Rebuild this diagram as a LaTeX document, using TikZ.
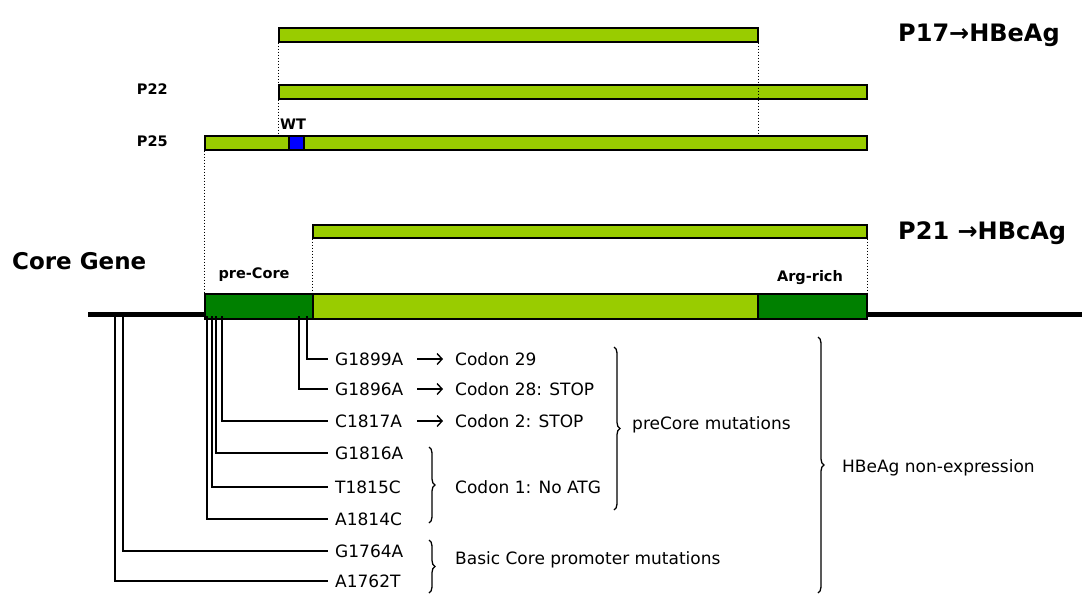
\documentclass[tikz,border=0pt]{standalone}
\usepackage{fontspec}
\setmainfont{DejaVu Sans}
\usepackage{xcolor}
\usepackage{tikz}
\usetikzlibrary{arrows.meta, decorations.pathreplacing}

\definecolor{lgreen}{HTML}{99CC00}
\definecolor{dgreen}{HTML}{008000}

\tikzset{
	bar/.style={draw, fill=lgreen, line width=1.5pt, inner sep=0pt, anchor=north west, minimum height=14pt},
	seg/.style={bar, minimum height=25pt},
	guide/.style={dotted, line width=1pt},
	wire/.style={line width=1.3pt},
	mut/.style={anchor=west, inner xsep=7pt, inner ysep=0pt, font=\fontsize{17}{20}\selectfont},
	mutlab/.style={mut, text width=70pt},
	tag/.style={inner sep=0pt, font=\bfseries\fontsize{14.5}{17}\selectfont},
	title/.style={anchor=west, inner sep=0pt, font=\bfseries\fontsize{24}{28}\selectfont},
	brc/.style={decorate, decoration={brace, amplitude=6pt}, line width=1.3pt},
	arr/.style={line width=1.4pt, -{Straight Barb[length=5pt, width=11pt]}, shorten <=5pt, shorten >=5pt}
}

\begin{document}
\begin{tikzpicture}[x=1pt, y=-1pt]
		\useasboundingbox (0,0) rectangle (1082,595);
		
		% protein bars
		\node[bar, minimum width=479pt] (p17) at (278,27) {};
		\node[bar, minimum width=588pt] (p22) at (278,84) {};
		\node[bar, minimum width=662pt] (p25) at (204,135) {};
		\node[bar, fill=blue, minimum width=15pt] (wt) at (288,135) {};
		\node[bar, minimum width=554pt, minimum height=13pt] (p21) at (312,224) {};
		
		% gene line and regions
		\coordinate (bl0) at (88,314);
		\coordinate (bl1) at (1082,314);
		\draw[line width=5pt] (bl0) -- (bl1);
		\node[seg, fill=dgreen, minimum width=108pt] (precore) at (204,293) {};
		\node[seg, minimum width=445pt] (core) at (312,293) {};
		\node[seg, fill=dgreen, minimum width=109pt] (argrich) at (757,293) {};
		
		\draw[guide] (p17.south west) -- (p25.north -| p17.south west);
		\draw[guide] (p17.south east) -- (p25.north -| p17.south east);
		\draw[guide] (p25.south west) -- (precore.north west);
		\draw[guide] (p21.south west) -- (core.north west);
		\draw[guide] (p21.south east) -- (argrich.north east);
		
		% labels
		\node[tag, anchor=east] (l22) at (168,89) {P22};
		\node[tag, anchor=east] (l25) at (168,141) {P25};
		\node[tag, anchor=south west] (lwt) at (280,130) {WT};
		\node[tag] (lpre) at (254,275) {pre-Core};
		\node[tag] (larg) at (810,278) {Arg-rich};
		\node[title] (t17) at (898,35) {P17→HBeAg};
		\node[title] (t21) at (898,233) {P21 →HBcAg};
		\node[title, font=\bfseries\fontsize{23}{27}\selectfont] (gene) at (12,261) {Core Gene};
		
		% mutations
		\foreach \n/\x/\y/\txt in {
			1/307/359/G1899A,
			2/299/389/G1896A,
			3/222/421/C1817A,
			4/216/453/G1816A,
			5/212/487/T1815C,
			6/207/519/A1814C,
			7/123/551/G1764A,
			8/115/581/A1762T
		}{
			\node[mutlab] (m\n) at (328,\y) {\txt};
			\coordinate (s\n) at (\x,316);
			\draw[wire] (s\n) |- (m\n.west);
		}
		
		\node[mut] (c1) at (448,359) {Codon 29};
		\node[mut] (c2) at (448,389) {Codon 28: STOP};
		\node[mut] (c3) at (448,421) {Codon 2: STOP};
		\draw[arr] (m1.east) -- (c1.west);
		\draw[arr] (m2.east) -- (c2.west);
		\draw[arr] (m3.east) -- (c3.west);
		
		\draw[brc] (429,447) -- (429,523);
		\node[mut] (c4) at (448,487) {Codon 1: No ATG};
		\draw[brc] (429,540) -- (429,593);
		\node[mut] (bcp) at (448,560) {Basic Core promoter mutations};
		\draw[brc] (614,347) -- (614,510);
		\node[mut] (pcm) at (625,425) {preCore mutations};
		\draw[brc] (818,337) -- (818,593);
		\node[mut] (neg) at (835,468) {HBeAg non-expression};
	\end{tikzpicture}
\end{document}
